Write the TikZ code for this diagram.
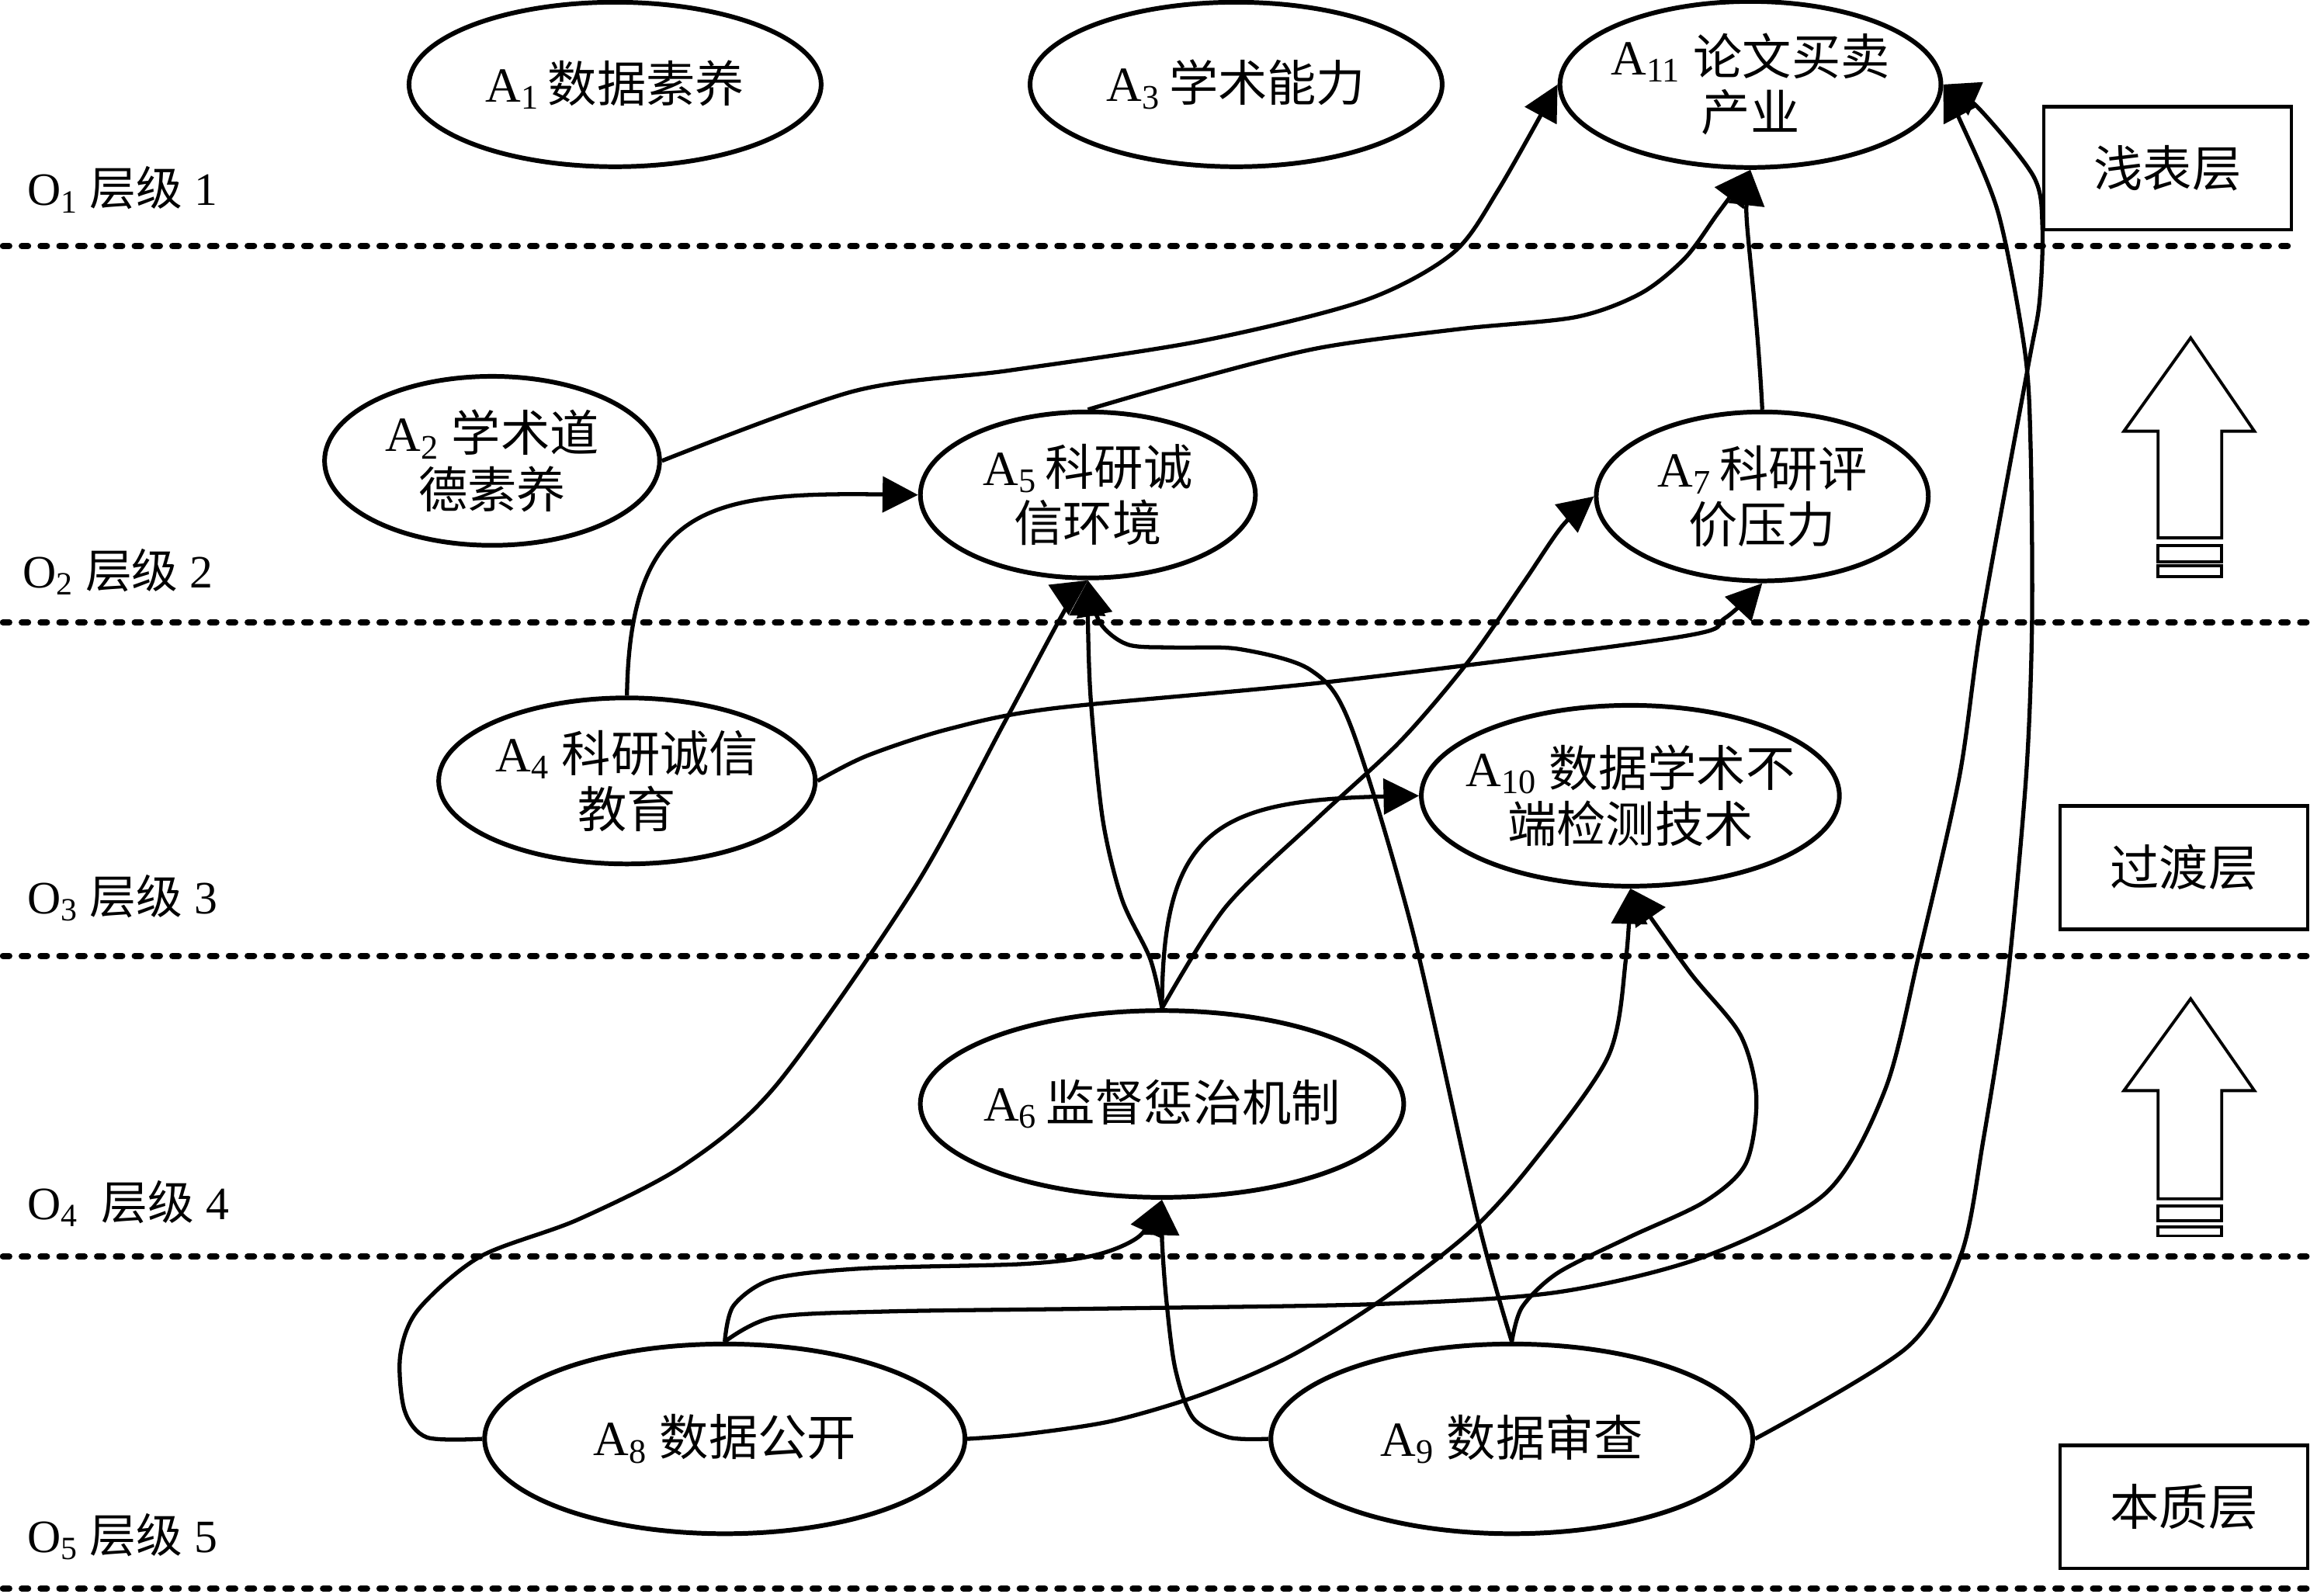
\documentclass[tikz,border=0pt]{standalone}
\usepackage{fontspec}
\setmainfont{Liberation Serif}
\newfontfamily\cjk{Noto Sans CJK SC}
\usetikzlibrary{arrows.meta,shapes.geometric}
\begin{document}
\begin{tikzpicture}[x=0.019094cm, y=-0.019094cm,
  el/.style={draw, ellipse, line width=1.7pt, inner sep=0pt},
  txt/.style={align=center, font=\fontsize{18pt}{20.5pt}\selectfont, inner sep=0pt},
  conn/.style={line width=1.5pt, -{Triangle[length=13pt,width=13pt]}},
  sepline/.style={line width=2.3pt, dash pattern=on 2.3pt off 4.6pt, line cap=round},
  layerbox/.style={draw, line width=1.3pt, minimum width=3.189cm, minimum height=1.585cm, inner sep=0pt, font=\fontsize{18pt}{19pt}\selectfont\cjk},
  lvl/.style={anchor=west, font=\fontsize{17pt}{19pt}\selectfont, inner sep=0pt},
  hollow/.style={draw, line width=1.1pt}
]
\useasboundingbox (0,0) rectangle (1568,1075.2);
\fill[white] (0,0) rectangle (1568,1075.2);

% separator lines
\draw[sepline] (2,166) -- (1548,166);
\draw[sepline] (2,420) -- (1558,420);
\draw[sepline] (2,645) -- (1558,645);
\draw[sepline] (2,848) -- (1558,848);
\draw[sepline] (2,1072) -- (1558,1072);

% level labels
\node[lvl] (L1) at (18,128) {O\textsubscript{1} {\cjk 层级} 1};
\node[lvl] (L2) at (15,386) {O\textsubscript{2} {\cjk 层级} 2};
\node[lvl] (L3) at (18,606) {O\textsubscript{3} {\cjk 层级} 3};
\node[lvl] (L4) at (18,812) {O\textsubscript{4}\ \ {\cjk 层级} 4};
\node[lvl] (L5) at (18,1037) {O\textsubscript{5} {\cjk 层级} 5};

% layer boxes
\node[layerbox] (B1) at (1462.5,113.5) {浅表层};
\node[layerbox] (B2) at (1473.5,585.5) {过渡层};
\node[layerbox] (B3) at (1473.5,1017) {本质层};

% hollow arrows
\draw[hollow] (1478,228) -- (1521,291) -- (1499,291) -- (1499,363) -- (1456,363) -- (1456,291) -- (1433,291) -- cycle;
\draw[hollow] (1456,368) rectangle (1499,379);
\draw[hollow] (1456,382) rectangle (1499,389);
\draw[hollow] (1478,674) -- (1521,736) -- (1499,736) -- (1499,809) -- (1456,809) -- (1456,736) -- (1433,736) -- cycle;
\draw[hollow] (1456,814) rectangle (1499,824);
\draw[hollow] (1456,828) rectangle (1499,834);

% ellipses
\node[el, minimum width=5.308cm, minimum height=2.119cm] (A1) at (415,57) {};
\node[el, minimum width=5.308cm, minimum height=2.119cm] (A3) at (834,57) {};
\node[el, minimum width=4.907cm, minimum height=2.139cm] (A11) at (1181,57) {};
\node[el, minimum width=4.315cm, minimum height=2.177cm] (A2) at (332,311) {};
\node[el, minimum width=4.315cm, minimum height=2.139cm] (A5) at (734,334) {};
\node[el, minimum width=4.277cm, minimum height=2.177cm] (A7) at (1189,335) {};
\node[el, minimum width=4.850cm, minimum height=2.139cm] (A4) at (423,527) {};
\node[el, minimum width=5.384cm, minimum height=2.329cm] (A10) at (1100,537) {};
\node[el, minimum width=6.225cm, minimum height=2.406cm] (A6) at (784,745) {};
\node[el, minimum width=6.186cm, minimum height=2.444cm] (A8) at (489,971) {};
\node[el, minimum width=6.206cm, minimum height=2.444cm] (A9) at (1020,971) {};

% texts
\node[txt] (T1) at (A1) {A\textsubscript{1}\,{\cjk 数据素养}};
\node[txt] (T3) at (A3) {A\textsubscript{3}\,{\cjk 学术能力}};
\node[txt] (T11) at (A11) {A\textsubscript{11} {\cjk 论文买卖}\\{\cjk 产业}};
\node[txt] (T2) at (A2) {A\textsubscript{2} {\cjk 学术道}\\{\cjk 德素养}};
\node[txt] (T5) at (A5) {A\textsubscript{5}\,{\cjk 科研诚}\\{\cjk 信环境}};
\node[txt] (T7) at (A7) {A\textsubscript{7}\,{\cjk 科研评}\\{\cjk 价压力}};
\node[txt] (T4) at (A4) {A\textsubscript{4} {\cjk 科研诚信}\\{\cjk 教育}};
\node[txt] (T10) at (A10) {A\textsubscript{10} {\cjk 数据学术不}\\{\cjk 端检测技术}};
\node[txt] (T6) at (A6) {A\textsubscript{6}\,{\cjk 监督惩治机制}};
\node[txt] (T8) at (A8) {A\textsubscript{8} {\cjk 数据公开}};
\node[txt] (T9) at (A9) {A\textsubscript{9} {\cjk 数据审查}};

% connectors
\draw[conn] plot[smooth] coordinates {(A2.east) (576,264) (681,250) (811,230) (920,203) (980,171) (1011,128) (A11.west)};
\draw[conn] plot[smooth] coordinates {(A5.north) (798,258) (889,235) (985,222) (1063,214) (1107,198) (1137,174) (1159,144) (A11.south)};
\draw[conn] (A7.north) .. controls (1185,200) and (1177,150) .. (A11.south);
\draw[conn] (A4.north) .. controls (425,340) and (480,332) .. (A5.west);
\draw[conn] plot[smooth] coordinates {(A4.east) (585,510) (640,492) (711,478) (898,460) (1132,430) (1164,417) (A7.south)};
\draw[conn] plot[smooth] coordinates {(A6.north) (776,647) (757,607) (744,553) (736,473) (734,420) (A5.south)};
\draw[conn] (A6.north) .. controls (784,560) and (820,540) .. (A10.west);
\draw[conn] plot[smooth] coordinates {(A6.north) (827,612) (888,553) (945,500) (991,446) (1028,393) (1054,355) (A7.west)};
\draw[conn] plot[smooth] coordinates {(A8.west) (288,970) (273,952) (270,915) (282,884) (324,848) (390,823) (462,786) (524,732) (617,599) (678,487) (720,409) (A5.south)};
\draw[conn] plot[smooth] coordinates {(A8.north) (495,881) (522,863) (582,856) (690,853) (739,847) (769,834) (A6.south)};
\draw[conn] plot[smooth] coordinates {(A9.west) (829,970) (805,957) (793,924) (787,878) (784,837) (A6.south)};
\draw[conn] plot[smooth] coordinates {(A8.north) (522,889) (600,885) (750,883) (931,880) (1051,872) (1150,848) (1232,805) (1272,735) (1295,643) (1322,524) (1337,419) (1368,249) (1376,204) (1378,153) (1372,119) (1334,72) (A11.east)};
\draw[conn] plot[smooth] coordinates {(A9.east) (1287,909) (1323,847) (1338,770) (1354,665) (1367,524) (1371,419) (1370,300) (1366,236) (1348,143) (1321,78) (A11.east)};
\draw[conn] plot[smooth] coordinates {(A8.east) (690,968) (750,959) (811,941) (871,915) (931,878) (991,832) (1033,786) (1085,713) (1097,647) (A10.south)};
\draw[conn] plot[smooth] coordinates {(A9.north) (1027,882) (1051,859) (1099,835) (1150,811) (1178,785) (1185,740) (1174,698) (1140,656) (A10.south)};
\draw[conn] plot[smooth] coordinates {(A9.north) (997,823) (953,628) (911,489) (884,452) (836,438) (793,437) (761,435) (742,420) (A5.south)};
\end{tikzpicture}
\end{document}
